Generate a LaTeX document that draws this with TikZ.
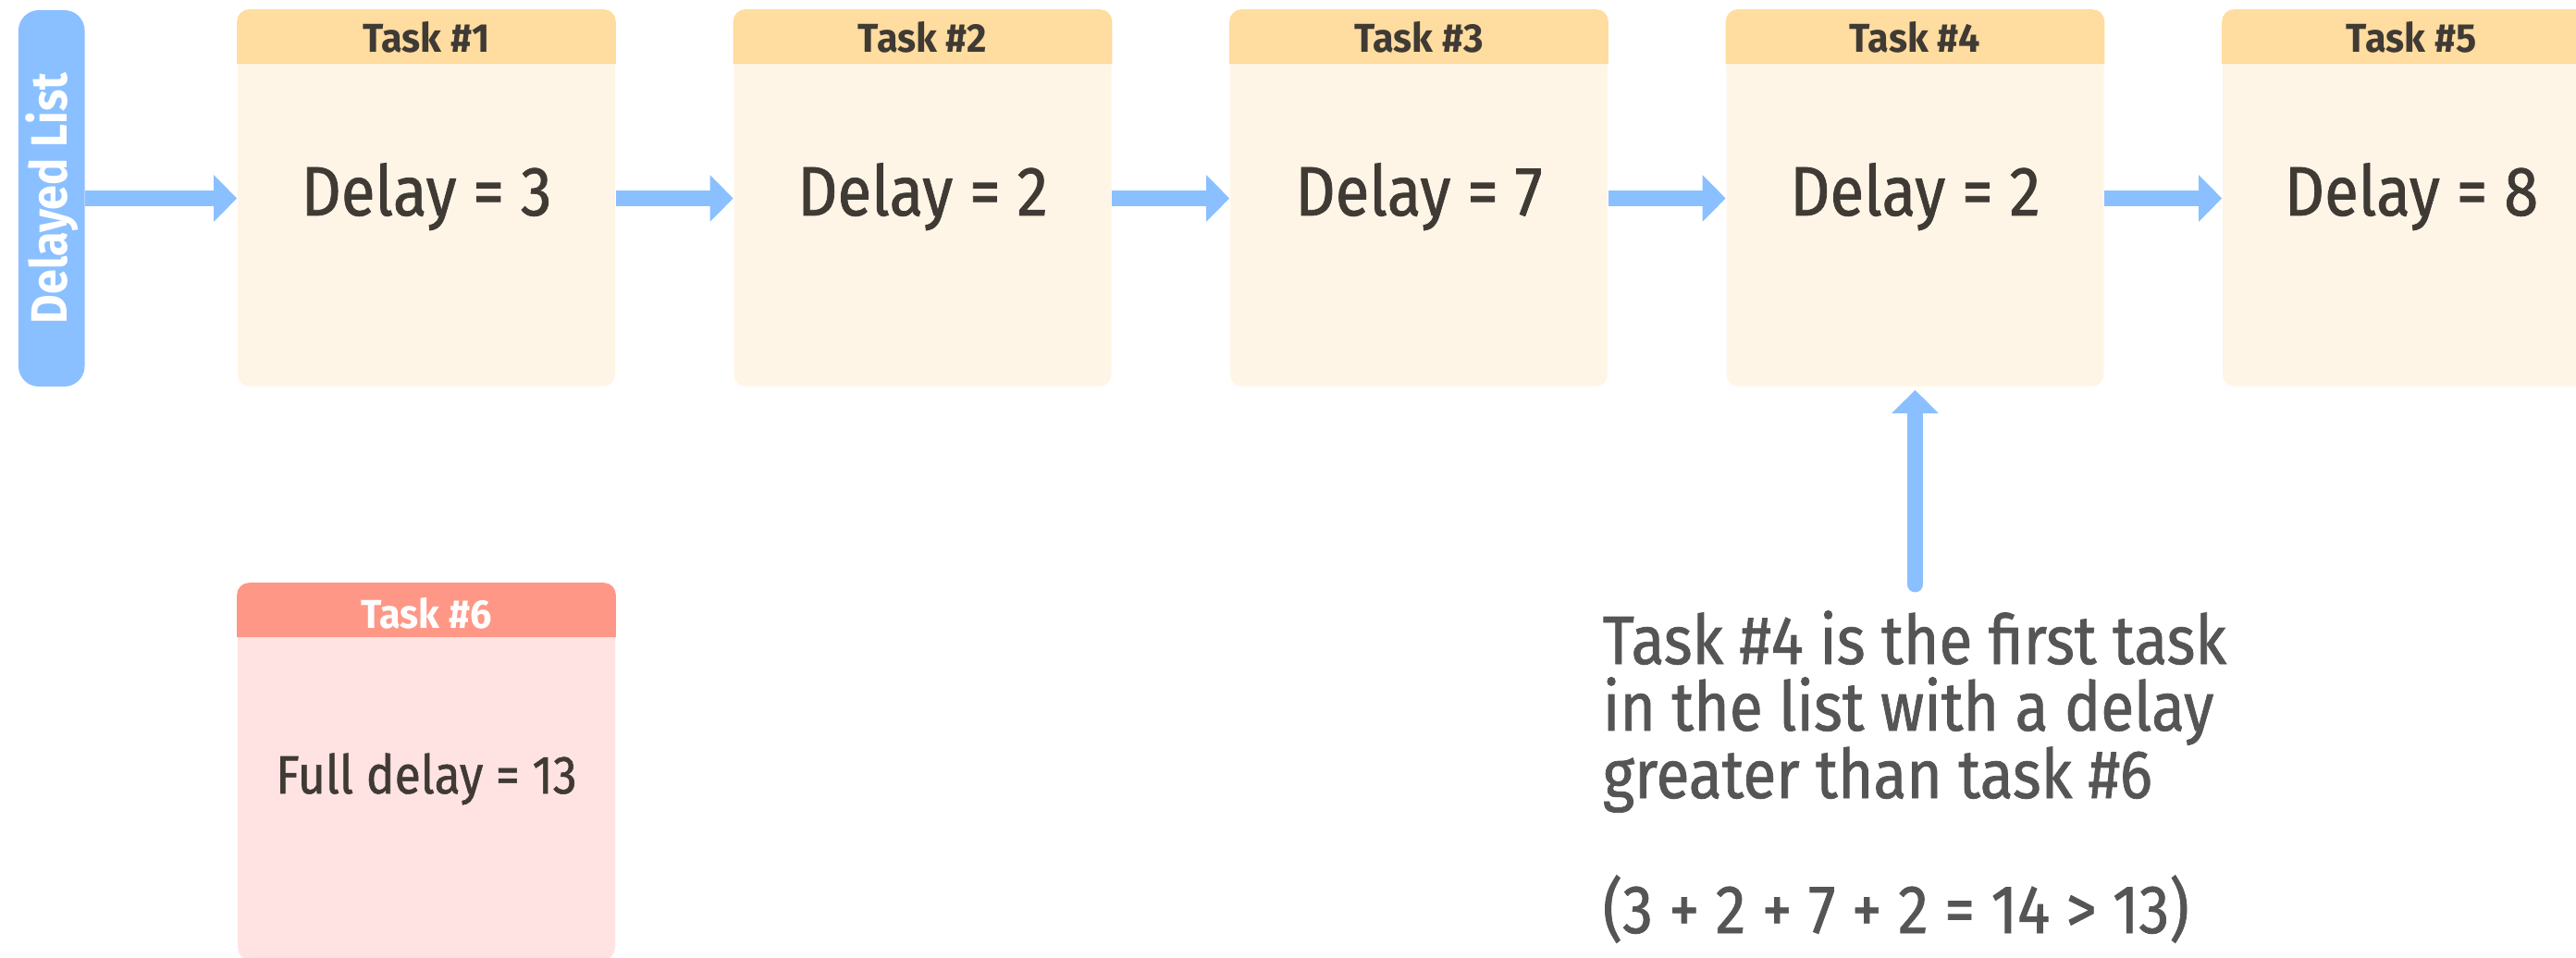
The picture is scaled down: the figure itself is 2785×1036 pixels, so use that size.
\documentclass[tikz,border=0pt]{standalone}
\usepackage{fontspec}
\setmainfont{Fira Sans}[FakeStretch=0.89, FakeBold=1]
\newfontfamily\headfont{Fira Sans}[FakeStretch=0.95, BoldFont={Fira Sans Bold}]
\newfontfamily\barfont{Fira Sans}[FakeStretch=0.88, BoldFont={Fira Sans Bold}]
\usetikzlibrary{arrows.meta,calc}

\definecolor{barblue}{HTML}{8AC0FF}
\definecolor{headyellow}{HTML}{FFDC9F}
\definecolor{bodycream}{HTML}{FFF5E6}
\definecolor{headred}{HTML}{FF9787}
\definecolor{bodypink}{HTML}{FFE3E3}
\definecolor{inktext}{HTML}{403A35}
\definecolor{notetext}{HTML}{555555}

\tikzset{
  taskbox/.style={rectangle, inner sep=0pt, minimum width=102pt, minimum height=101.75pt,
    rounded corners=3.25pt, fill=bodycream},
  headtxt/.style={font=\headfont\fontsize{10.9}{12}\selectfont\bfseries, text=inktext, inner sep=0pt},
  delaytxt/.style={font=\fontsize{18.9}{20}\selectfont, text=inktext, inner sep=0pt, anchor=base},
  notetxt/.style={font=\fontsize{18.5}{18.25}\selectfont, text=notetext, inner sep=0pt, anchor=base west},
  flow/.style={draw=barblue, line width=4.25pt, -{Triangle[length=6.25pt,width=12.25pt]}},
}

\begin{document}
\begin{tikzpicture}[x=0.25pt,y=-0.25pt]
\useasboundingbox (0,0) rectangle (2785,1036);
\clip (0,0) rectangle (2785,1036);

% list head bar
\node[rectangle, fill=barblue, rounded corners=5.5pt, inner sep=0pt,
      minimum width=17.9pt, minimum height=101.75pt] (bar) at (55.75,214.5) {};
\node[rotate=90, font=\barfont\fontsize{13.8}{15}\selectfont\bfseries, text=white, inner sep=0pt]
      (barlabel) at (bar.center) {Delayed List};

% tasks in the delayed list
\foreach \i/\cx/\d in {1/461/3, 2/997.5/2, 3/1534/7, 4/2070.5/2, 5/2607/8}{
  \node[taskbox] (t\i) at (\cx,214.5) {};
  \fill[headyellow] ($(t\i.north west)+(0,59)$) [rounded corners=3.25pt] -- (t\i.north west)
        -- (t\i.north east) [sharp corners] -- ($(t\i.north east)+(0,59)$) -- cycle;
  \node[headtxt] (h\i) at (\cx,40.5) {Task \#\i};
  \node[delaytxt] (d\i) at (\cx,233) {Delay = \d};
}

% links between tasks
\draw[flow] (bar.east) -- (t1.west);
\draw[flow] (t1.east) -- (t2.west);
\draw[flow] (t2.east) -- (t3.west);
\draw[flow] (t3.east) -- (t4.west);
\draw[flow] (t4.east) -- (t5.west);

% task being inserted
\node[taskbox, fill=bodypink] (t6) at (461,834.5) {};
\fill[headred] ($(t6.north west)+(0,59)$) [rounded corners=3.25pt] -- (t6.north west)
      -- (t6.north east) [sharp corners] -- ($(t6.north east)+(0,59)$) -- cycle;
\node[headtxt, text=white] (h6) at (461,663.5) {Task \#6};
\node[delaytxt, font=\fontsize{14.5}{16}\selectfont] (d6) at (461,858) {Full delay = 13};

% explanation
\node[notetxt] (n1) at (1732,718) {Task \#4 is the first task};
\node[notetxt] (n2) at (1732,790) {in the list with a delay};
\node[notetxt] (n3) at (1732,863) {greater than task \#6};
\node[notetxt] (n4) at (1732,1009) {(3 + 2 + 7 + 2 = 14 > 13)};

\coordinate (pstart) at (2070.5,632);
\draw[flow, line cap=round] (pstart) -- ($(t4.south)+(0,3)$);
\end{tikzpicture}
\end{document}
